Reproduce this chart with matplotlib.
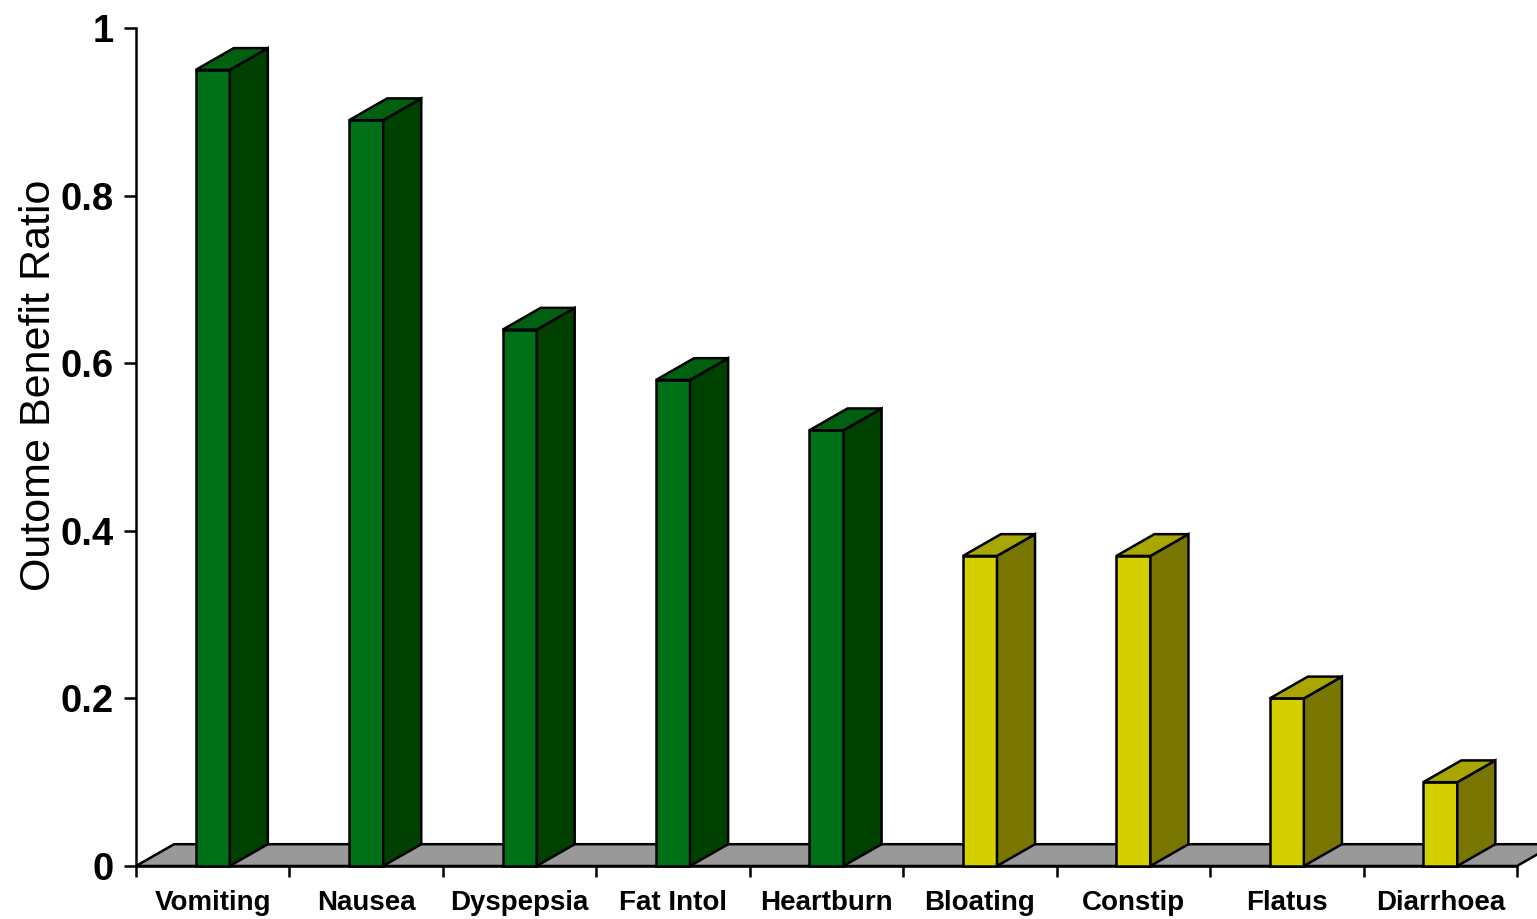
import matplotlib
matplotlib.use("Agg")
import matplotlib.pyplot as plt
from matplotlib.patches import Polygon

plt.rcParams['font.family'] = ['Liberation Sans', 'DejaVu Sans']

# ratio per symptom
categories = ['Vomiting', 'Nausea', 'Dyspepsia', 'Fat Intol', 'Heartburn',
              'Bloating', 'Constip', 'Flatus', 'Diarrhoea']
values = [0.95, 0.89, 0.64, 0.58, 0.52, 0.37, 0.37, 0.20, 0.10]
groups = ['upper', 'upper', 'upper', 'upper', 'upper',
          'lower', 'lower', 'lower', 'lower']
yticks = [0, 0.2, 0.4, 0.6, 0.8, 1]
ytick_labels = ['0', '0.2', '0.4', '0.6', '0.8', '1']

# front, side, top shades
palette = {
    'upper': ('#007018', '#004000', '#006010'),
    'lower': ('#d4d000', '#787600', '#aaa600'),
}
floor_color = '#999999'

bar_w = 0.222     # front face width, in category units
dx = 0.248        # depth offset along x
dy = 0.026        # depth offset along y
lw = 1.8

fig = plt.figure(figsize=(15.37, 9.19), dpi=100)
ax = fig.add_axes([136 / 1537, 53 / 919, 1381 / 1537, 838 / 919])
ax.set_xlim(0, len(categories))
ax.set_ylim(0, 1)

n = len(categories)
floor = Polygon([(0, 0), (n, 0), (n + dx, dy), (dx, dy)], closed=True,
                facecolor=floor_color, edgecolor='black', lw=lw,
                clip_on=False, zorder=1)
ax.add_patch(floor)

for i, (v, g) in enumerate(zip(values, groups)):
    front_c, side_c, top_c = palette[g]
    x0 = i + 0.5 - bar_w / 2
    x1 = i + 0.5 + bar_w / 2
    front = Polygon([(x0, 0), (x1, 0), (x1, v), (x0, v)], closed=True,
                    facecolor=front_c, edgecolor='black', lw=lw, clip_on=False, zorder=3)
    side = Polygon([(x1, 0), (x1 + dx, dy), (x1 + dx, v + dy), (x1, v)], closed=True,
                   facecolor=side_c, edgecolor='black', lw=lw, clip_on=False, zorder=3)
    top = Polygon([(x0, v), (x1, v), (x1 + dx, v + dy), (x0 + dx, v + dy)], closed=True,
                  facecolor=top_c, edgecolor='black', lw=lw, clip_on=False, zorder=3)
    for p in (front, side, top):
        ax.add_patch(p)

for s in ['top', 'right']:
    ax.spines[s].set_visible(False)
for s in ['left', 'bottom']:
    ax.spines[s].set_linewidth(lw)
    ax.spines[s].set_zorder(2)

ax.set_yticks(yticks)
ax.set_yticklabels(ytick_labels, fontsize=27.5, fontweight='bold')
ax.tick_params(axis='y', direction='out', length=9, width=lw, pad=7)

ax.set_xticks(range(n + 1))
ax.set_xticklabels([])
ax.set_xticks([i + 0.5 for i in range(n)], minor=True)
ax.set_xticklabels(categories, minor=True, fontsize=20, fontweight='bold')
ax.tick_params(axis='x', which='major', direction='out', length=8, width=lw)
ax.tick_params(axis='x', which='minor', length=0, pad=17)

ax.set_ylabel('Outome Benefit Ratio', fontsize=31)
ax.yaxis.set_label_coords(-0.056, 0.574)

fig.savefig('out.png', dpi=100)
